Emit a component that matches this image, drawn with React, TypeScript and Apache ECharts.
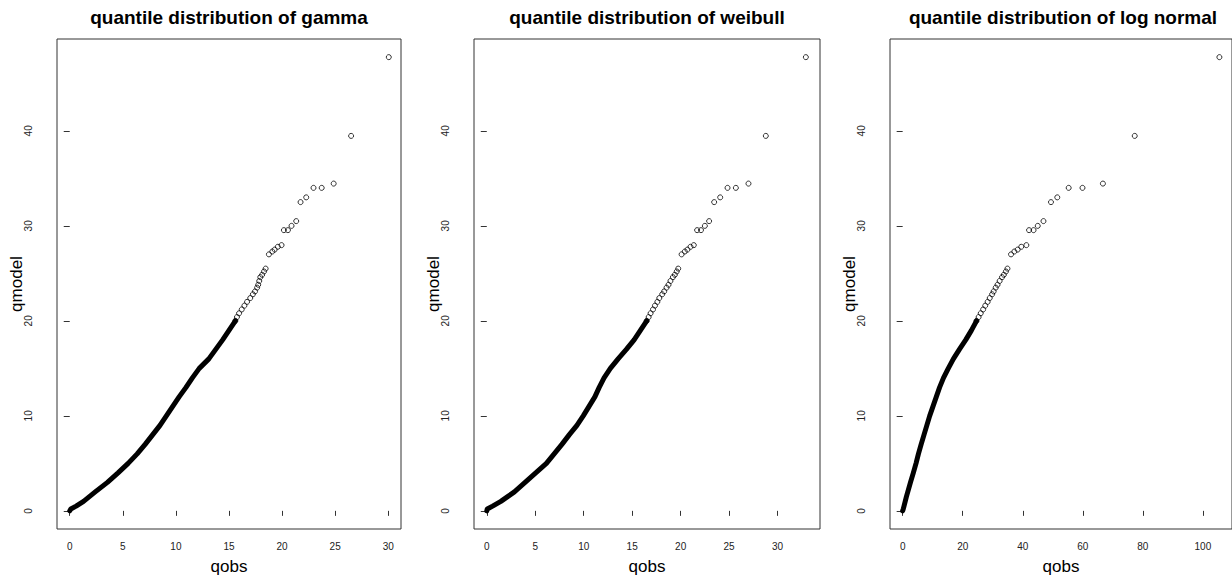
import React, { useEffect, useRef } from "react";
import * as echarts from "echarts";

// ---- titles / labels ----
const panelTitles = [
  "quantile distribution of gamma",
  "quantile distribution of weibull",
  "quantile distribution of log normal",
];
const xName = "qobs";
const yName = "qmodel";

// ---- tick labels ----
const xTicksGamma = [0, 5, 10, 15, 20, 25, 30];
const xTicksWeibull = [0, 5, 10, 15, 20, 25, 30];
const xTicksLognormal = [0, 20, 40, 60, 80, 100];
const yTicks = [0, 10, 20, 30, 40];

// ---- dense body of the sample (qmodel values) and matching qobs per fit ----
const qmodelBody = [0, 0.2, 0.5, 1, 1.5, 2, 3, 4, 5, 6, 7, 8, 9, 10, 11, 12, 13, 14, 15, 16, 17, 18, 19, 20];
const gammaBody = [0, 0.1, 0.6, 1.3, 1.85, 2.4, 3.55, 4.55, 5.5, 6.35, 7.1, 7.8, 8.5, 9.1, 9.7, 10.3, 10.95, 11.55, 12.2, 13.1, 13.75, 14.4, 15.0, 15.6];
const weibullBody = [0, 0.05, 0.6, 1.45, 2.15, 2.85, 3.95, 5.05, 6.15, 6.95, 7.75, 8.5, 9.3, 9.95, 10.55, 11.15, 11.6, 12.1, 12.75, 13.55, 14.4, 15.2, 15.85, 16.5];
const lognormalBody = [0, 0.2, 0.45, 0.85, 1.25, 1.7, 2.6, 3.55, 4.45, 5.25, 6.15, 7.1, 8.05, 9.0, 10.1, 11.2, 12.3, 13.6, 15.2, 16.9, 18.9, 21.0, 22.9, 24.6];

// ---- upper tail: individual points ----
const qmodelTail = [47.76, 39.47, 34.45, 34.0, 34.0, 33.0, 32.5, 30.5, 30.0, 29.55, 29.55, 27.97, 27.8, 27.5, 27.3, 27.0,
  25.5, 25.2, 24.85, 24.6, 24.2, 23.8, 23.5, 23.1, 22.8, 22.4, 22.0, 21.6, 21.2, 20.8, 20.4, 20.0];
const gammaTail = [30.05, 26.5, 24.86, 23.73, 22.96, 22.27, 21.74, 21.33, 20.89, 20.55, 20.17, 19.95, 19.6, 19.3, 19.08, 18.76,
  18.45, 18.3, 18.12, 17.95, 17.85, 17.75, 17.65, 17.45, 17.25, 17.0, 16.7, 16.45, 16.2, 15.95, 15.75, 15.6];
const weibullTail = [32.92, 28.79, 27.0, 25.7, 24.84, 24.08, 23.46, 22.94, 22.5, 22.1, 21.7, 21.36, 21.02, 20.7, 20.43, 20.1,
  19.75, 19.6, 19.4, 19.2, 18.95, 18.75, 18.55, 18.3, 18.1, 17.8, 17.6, 17.35, 17.15, 16.9, 16.7, 16.5];
const lognormalTail = [105.5, 77.3, 66.7, 59.9, 55.3, 51.5, 49.4, 46.9, 45.0, 43.6, 42.1, 41.2, 39.5, 38.3, 37.2, 36.1,
  34.9, 34.4, 33.7, 33.1, 32.3, 31.6, 31.0, 30.3, 29.8, 29.0, 28.3, 27.5, 26.8, 26.0, 25.3, 24.6];

const FONT = "'Liberation Sans', Arial, Helvetica, sans-serif";

const panels = [
  { left: 57, width: 344, xMin: -1.2, xMax: 31.2, xTicks: xTicksGamma, body: gammaBody, tail: gammaTail },
  { left: 474, width: 346, xMin: -1.32, xMax: 34.38, xTicks: xTicksWeibull, body: weibullBody, tail: weibullTail },
  { left: 890, width: 346, xMin: -4.22, xMax: 109.7, xTicks: xTicksLognormal, body: lognormalBody, tail: lognormalTail },
];

const GRID_TOP = 39;
const GRID_H = 490;
const Y_MIN = -1.91;
const Y_MAX = 49.67;

export default function App() {
  const ref = useRef<HTMLDivElement>(null);

  useEffect(() => {
    if (!ref.current) return;
    const chart = echarts.init(ref.current, null, { renderer: "svg" });

    const grid = panels.map((p) => ({
      left: p.left,
      top: GRID_TOP,
      width: p.width,
      height: GRID_H,
      show: true,
      borderColor: "#333",
      borderWidth: 1,
      backgroundColor: "transparent",
      containLabel: false,
    }));

    const xAxis = panels.map((p, i) => ({
      type: "value",
      gridIndex: i,
      min: p.xMin,
      max: p.xMax,
      axisLine: { show: false },
      splitLine: { show: false },
      axisTick: { show: true, length: 5, customValues: p.xTicks, lineStyle: { color: "#333", width: 1 } },
      axisLabel: { customValues: p.xTicks, fontSize: 10, color: "#222", margin: 12, fontFamily: FONT },
      name: xName,
      nameLocation: "middle",
      nameGap: 29,
      nameMoveOverlap: false,
      nameTextStyle: { fontSize: 17, color: "#000", fontFamily: FONT },
    }));

    const yAxis = panels.map((p, i) => ({
      type: "value",
      gridIndex: i,
      min: Y_MIN,
      max: Y_MAX,
      axisLine: { show: false },
      splitLine: { show: false },
      axisTick: { show: true, length: 6, customValues: yTicks, lineStyle: { color: "#333", width: 1 } },
      axisLabel: { customValues: yTicks, fontSize: 10, color: "#222", margin: 24, rotate: 90, fontFamily: FONT },
      name: yName,
      nameLocation: "middle",
      nameGap: 32,
      nameMoveOverlap: false,
      nameTextStyle: { fontSize: 17, color: "#000", fontFamily: FONT },
    }));

    const series: any[] = [];
    panels.forEach((p, i) => {
      series.push({
        type: "line",
        xAxisIndex: i,
        yAxisIndex: i,
        data: qmodelBody.map((y, k) => [p.body[k], y]),
        showSymbol: false,
        symbol: "none",
        lineStyle: { color: "#000", width: 5, cap: "round", join: "round" },
        silent: true,
      });
      series.push({
        type: "scatter",
        xAxisIndex: i,
        yAxisIndex: i,
        data: qmodelTail.map((y, k) => [p.tail[k], y]),
        symbol: "circle",
        symbolSize: 5,
        itemStyle: { color: "rgba(0,0,0,0)", borderColor: "#000", borderWidth: 1 },
        silent: true,
      });
    });

    const graphic = panels.map((p, i) => ({
      type: "text",
      x: p.left + p.width / 2,
      y: 17,
      style: {
        text: panelTitles[i],
        font: `bold 19px ${FONT}`,
        fill: "#000",
        textAlign: "center",
        textVerticalAlign: "middle",
        align: "center",
        verticalAlign: "middle",
      },
    }));

    chart.setOption({
      animation: false,
      backgroundColor: "#fff",
      grid,
      xAxis,
      yAxis,
      series,
      graphic,
    });

    return () => chart.dispose();
  }, []);

  return (
    <div
      ref={ref}
      style={{ position: "absolute", left: 0, top: 0, width: 1232, height: 580, background: "#fff" }}
    />
  );
}
